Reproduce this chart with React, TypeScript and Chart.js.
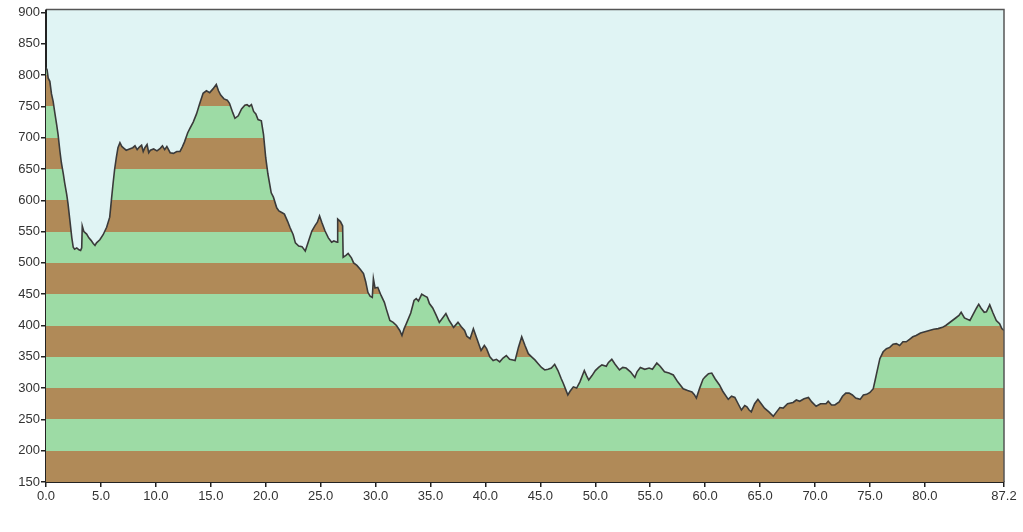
import React, { useEffect, useRef } from "react";
import { Chart, registerables } from "chart.js";

Chart.register(...registerables);

const distanceKm: number[] = [
  0.0, 0.1, 0.2, 0.35, 0.5, 0.65, 0.8, 0.97, 1.1, 1.27, 1.4, 1.58, 1.7, 1.88, 2.0, 2.18, 2.35, 2.48, 2.6, 2.8,
  3.0, 3.15, 3.25, 3.3, 3.45, 3.7, 3.9, 4.1, 4.3, 4.46, 4.6, 4.9, 5.2, 5.52, 5.8, 5.95, 6.1, 6.25, 6.4, 6.55,
  6.73, 6.9, 7.1, 7.3, 7.6, 7.9, 8.1, 8.3, 8.5, 8.7, 8.85, 9.0, 9.2, 9.35, 9.5, 9.8, 10.1, 10.4, 10.6, 10.8,
  11.0, 11.3, 11.6, 11.9, 12.2, 12.4, 12.6, 12.9, 13.1, 13.4, 13.7, 14.0, 14.3, 14.6, 14.9, 15.2, 15.5, 15.7, 15.9, 16.2,
  16.5, 16.7, 17.0, 17.2, 17.5, 17.8, 18.1, 18.3, 18.5, 18.7, 18.9, 19.1, 19.3, 19.6, 19.8, 20.0, 20.2, 20.5, 20.7, 21.0,
  21.2, 21.5, 21.7, 22.0, 22.2, 22.5, 22.7, 23.0, 23.3, 23.6, 23.9, 24.2, 24.5, 24.7, 24.9, 25.1, 25.4, 25.7, 26.0, 26.2,
  26.5, 26.55, 26.8, 27.0, 27.05, 27.3, 27.5, 27.8, 28.0, 28.3, 28.6, 28.9, 29.1, 29.3, 29.5, 29.7, 29.8, 29.95, 30.2, 30.5,
  30.8, 31.0, 31.3, 31.6, 31.9, 32.2, 32.4, 32.6, 32.8, 33.2, 33.5, 33.7, 33.9, 34.2, 34.5, 34.7, 34.9, 35.2, 35.5, 35.8,
  36.1, 36.4, 36.7, 37.1, 37.3, 37.5, 37.8, 38.1, 38.3, 38.6, 38.9, 39.2, 39.6, 39.9, 40.1, 40.4, 40.7, 41.0, 41.3, 41.6,
  41.9, 42.2, 42.5, 42.7, 43.0, 43.3, 43.6, 43.9, 44.2, 44.5, 44.8, 45.1, 45.4, 45.7, 46.0, 46.3, 46.6, 46.9, 47.1, 47.3,
  47.5, 47.7, 48.0, 48.3, 48.6, 49.0, 49.2, 49.4, 49.7, 50.0, 50.3, 50.6, 51.0, 51.2, 51.5, 51.8, 52.2, 52.5, 52.8, 53.2,
  53.6, 53.8, 54.1, 54.5, 54.9, 55.2, 55.6, 55.9, 56.3, 56.7, 57.1, 57.5, 58.0, 58.4, 58.8, 59.0, 59.2, 59.5, 59.8, 60.0,
  60.3, 60.6, 60.9, 61.3, 61.6, 62.1, 62.4, 62.7, 63.0, 63.3, 63.6, 63.8, 64.0, 64.2, 64.5, 64.8, 65.1, 65.4, 65.8, 66.2,
  66.5, 66.8, 67.1, 67.5, 68.0, 68.3, 68.6, 69.0, 69.4, 69.7, 70.1, 70.5, 71.0, 71.2, 71.5, 71.8, 72.2, 72.5, 72.8, 73.1,
  73.4, 73.7, 74.1, 74.4, 74.7, 75.0, 75.3, 75.5, 75.6, 75.9, 76.2, 76.5, 76.8, 77.1, 77.4, 77.7, 78.0, 78.3, 78.6, 78.9,
  79.2, 79.6, 80.0, 80.4, 80.8, 81.2, 81.6, 81.9, 82.2, 82.5, 82.8, 83.1, 83.3, 83.6, 84.1, 84.4, 84.7, 84.9, 85.1, 85.4,
  85.6, 85.9, 86.2, 86.5, 86.8, 87.0, 87.2,
];

const elevationM: number[] = [
  812, 808, 795, 790, 770, 758, 740, 721, 705, 678, 660, 642, 628, 610, 595, 567, 540, 525, 522, 524,
  521, 520, 524, 559, 550, 546, 540, 536, 531, 528, 532, 537, 545, 557, 573, 600, 626, 650, 668, 684,
  692, 686, 683, 680, 682, 684, 687, 681, 685, 688, 678, 684, 689, 676, 680, 682, 679, 683, 687, 681,
  686, 676, 675, 678, 678, 685, 693, 708, 715, 725, 738, 755, 771, 775, 772, 778, 785, 775, 768, 762,
  760, 755, 740, 731, 735, 746, 752, 753, 750, 753, 742, 738, 729, 727, 705, 668, 642, 612, 605, 588,
  583, 580, 578, 566, 557, 545, 532, 527, 526, 519, 535, 551, 560, 565, 575, 565, 551, 540, 533, 535,
  533, 570, 566, 559, 509, 512, 515, 508, 500, 496, 490, 483, 470, 453, 447, 445, 475, 460, 461, 448,
  437, 425, 408, 405, 400, 392, 384, 395, 403, 420, 440, 443, 439, 450, 447, 445, 435, 428, 417, 405,
  412, 419, 408, 397, 401, 405, 398, 392, 383, 379, 395, 380, 360, 368, 363, 350, 344, 346, 342, 348,
  352, 346, 345, 344, 365, 382, 368, 355, 350, 345, 339, 333, 329, 330, 332, 338, 328, 315, 307, 298,
  289, 295, 302, 300, 310, 328, 320, 313, 320, 328, 333, 337, 335, 341, 346, 338, 329, 333, 332, 326,
  317, 326, 333, 330, 332, 330, 340, 335, 326, 324, 321, 310, 299, 296, 294, 290, 284, 300, 314, 318,
  323, 324, 315, 305, 295, 282, 287, 285, 275, 265, 272, 270, 265, 262, 275, 282, 275, 268, 262, 255,
  262, 269, 268, 275, 277, 281, 279, 283, 285, 278, 271, 275, 275, 279, 273, 273, 278, 287, 292, 292,
  289, 284, 282, 289, 290, 293, 299, 315, 323, 347, 358, 363, 365, 370, 371, 368, 374, 374, 378, 382,
  384, 388, 390, 392, 394, 395, 397, 400, 404, 408, 412, 416, 421, 412, 408, 418, 428, 434, 428, 421,
  422, 433, 420, 408, 403, 395, 392,
];

const xTickValues: number[] = [0, 5, 10, 15, 20, 25, 30, 35, 40, 45, 50, 55, 60, 65, 70, 75, 80, 87.2];
const yMin = 150;
const yMax = 900;
const bandStep = 50;

const BG = "#e0f4f4";
const BROWN = "#b08a58";
const GREEN = "#9ddba5";
const LINE = "#3a3a3a";

function bandFill(context: any) {
  const chart = context.chart;
  const area = chart.chartArea;
  const y = chart.scales.y;
  if (!area || !y) return BROWN;
  const top = y.getPixelForValue(yMax);
  const bottom = y.getPixelForValue(yMin);
  const g = chart.ctx.createLinearGradient(0, bottom, 0, top);
  const span = yMax - yMin;
  let k = 0;
  for (let v = yMin; v < yMax; v += bandStep, k++) {
    const c = k % 2 === 0 ? BROWN : GREEN;
    const s = (v - yMin) / span;
    const e = (v + bandStep - yMin) / span;
    g.addColorStop(Math.min(1, s), c);
    g.addColorStop(Math.min(1, e - 0.00001), c);
  }
  return g;
}

const FRAME_GAP = 3;

const areaBg = {
  id: "areaBg",
  beforeDraw(chart: any) {
    const { ctx, chartArea } = chart;
    if (!chartArea) return;
    ctx.save();
    ctx.fillStyle = BG;
    const t = chartArea.top - FRAME_GAP;
    ctx.fillRect(chartArea.left, t, chartArea.right - chartArea.left, chartArea.bottom - t);
    ctx.restore();
  },
  afterDraw(chart: any) {
    const { ctx, chartArea } = chart;
    if (!chartArea) return;
    ctx.save();
    ctx.strokeStyle = "#555";
    ctx.lineWidth = 1.5;
    const t = chartArea.top - FRAME_GAP;
    ctx.beginPath();
    ctx.moveTo(chartArea.left, t);
    ctx.lineTo(chartArea.right, t);
    ctx.lineTo(chartArea.right, chartArea.bottom);
    ctx.stroke();
    ctx.strokeStyle = "#222";
    ctx.lineWidth = 2;
    ctx.beginPath();
    ctx.moveTo(chartArea.left, t);
    ctx.lineTo(chartArea.left, chartArea.top);
    ctx.stroke();
    ctx.restore();
  },
};

export default function App() {
  const ref = useRef<HTMLCanvasElement | null>(null);
  useEffect(() => {
    if (!ref.current) return;
    const points = distanceKm.map((d, i) => ({ x: d, y: elevationM[i] }));
    const chart = new Chart(ref.current, {
      type: "line",
      data: {
        datasets: [
          {
            data: points,
            borderColor: LINE,
            borderWidth: 1.6,
            pointRadius: 0,
            tension: 0,
            fill: "start",
            backgroundColor: bandFill,
          },
        ],
      },
      options: {
        animation: false,
        responsive: true,
        maintainAspectRatio: false,
        layout: { padding: { left: 0, top: 12.5, right: 19, bottom: 0 } },
        plugins: { legend: { display: false }, tooltip: { enabled: false } },
        scales: {
          x: {
            type: "linear",
            min: 0,
            max: 87.2,
            afterBuildTicks: (scale: any) => {
              scale.ticks = xTickValues.map((v) => ({ value: v }));
            },
            afterFit: (scale: any) => {
              scale.height = 50;
            },
            grid: { drawOnChartArea: false, drawTicks: true, tickLength: 5, color: "#222", lineWidth: 1.5 },
            border: { display: true, color: "#222", width: 2 },
            ticks: {
              autoSkip: false,
              maxRotation: 0,
              padding: 2,
              color: "#333",
              font: { family: "'Liberation Sans', Arial, sans-serif", size: 13 },
              callback: (v: any) => Number(v).toFixed(1),
            },
          },
          y: {
            min: yMin,
            max: yMax,
            afterFit: (scale: any) => {
              scale.width = 46;
            },
            grid: { drawOnChartArea: false, drawTicks: true, tickLength: 5, color: "#222", lineWidth: 1.5 },
            border: { display: true, color: "#222", width: 2 },
            ticks: {
              stepSize: 50,
              padding: 1,
              color: "#333",
              font: { family: "'Liberation Sans', Arial, sans-serif", size: 13 },
            },
          },
        },
      },
      plugins: [areaBg],
    });
    return () => chart.destroy();
  }, []);

  return (
    <div style={{ position: "fixed", left: 0, top: 0, width: 1023, height: 532, background: "#fff" }}>
      <canvas ref={ref} />
    </div>
  );
}
